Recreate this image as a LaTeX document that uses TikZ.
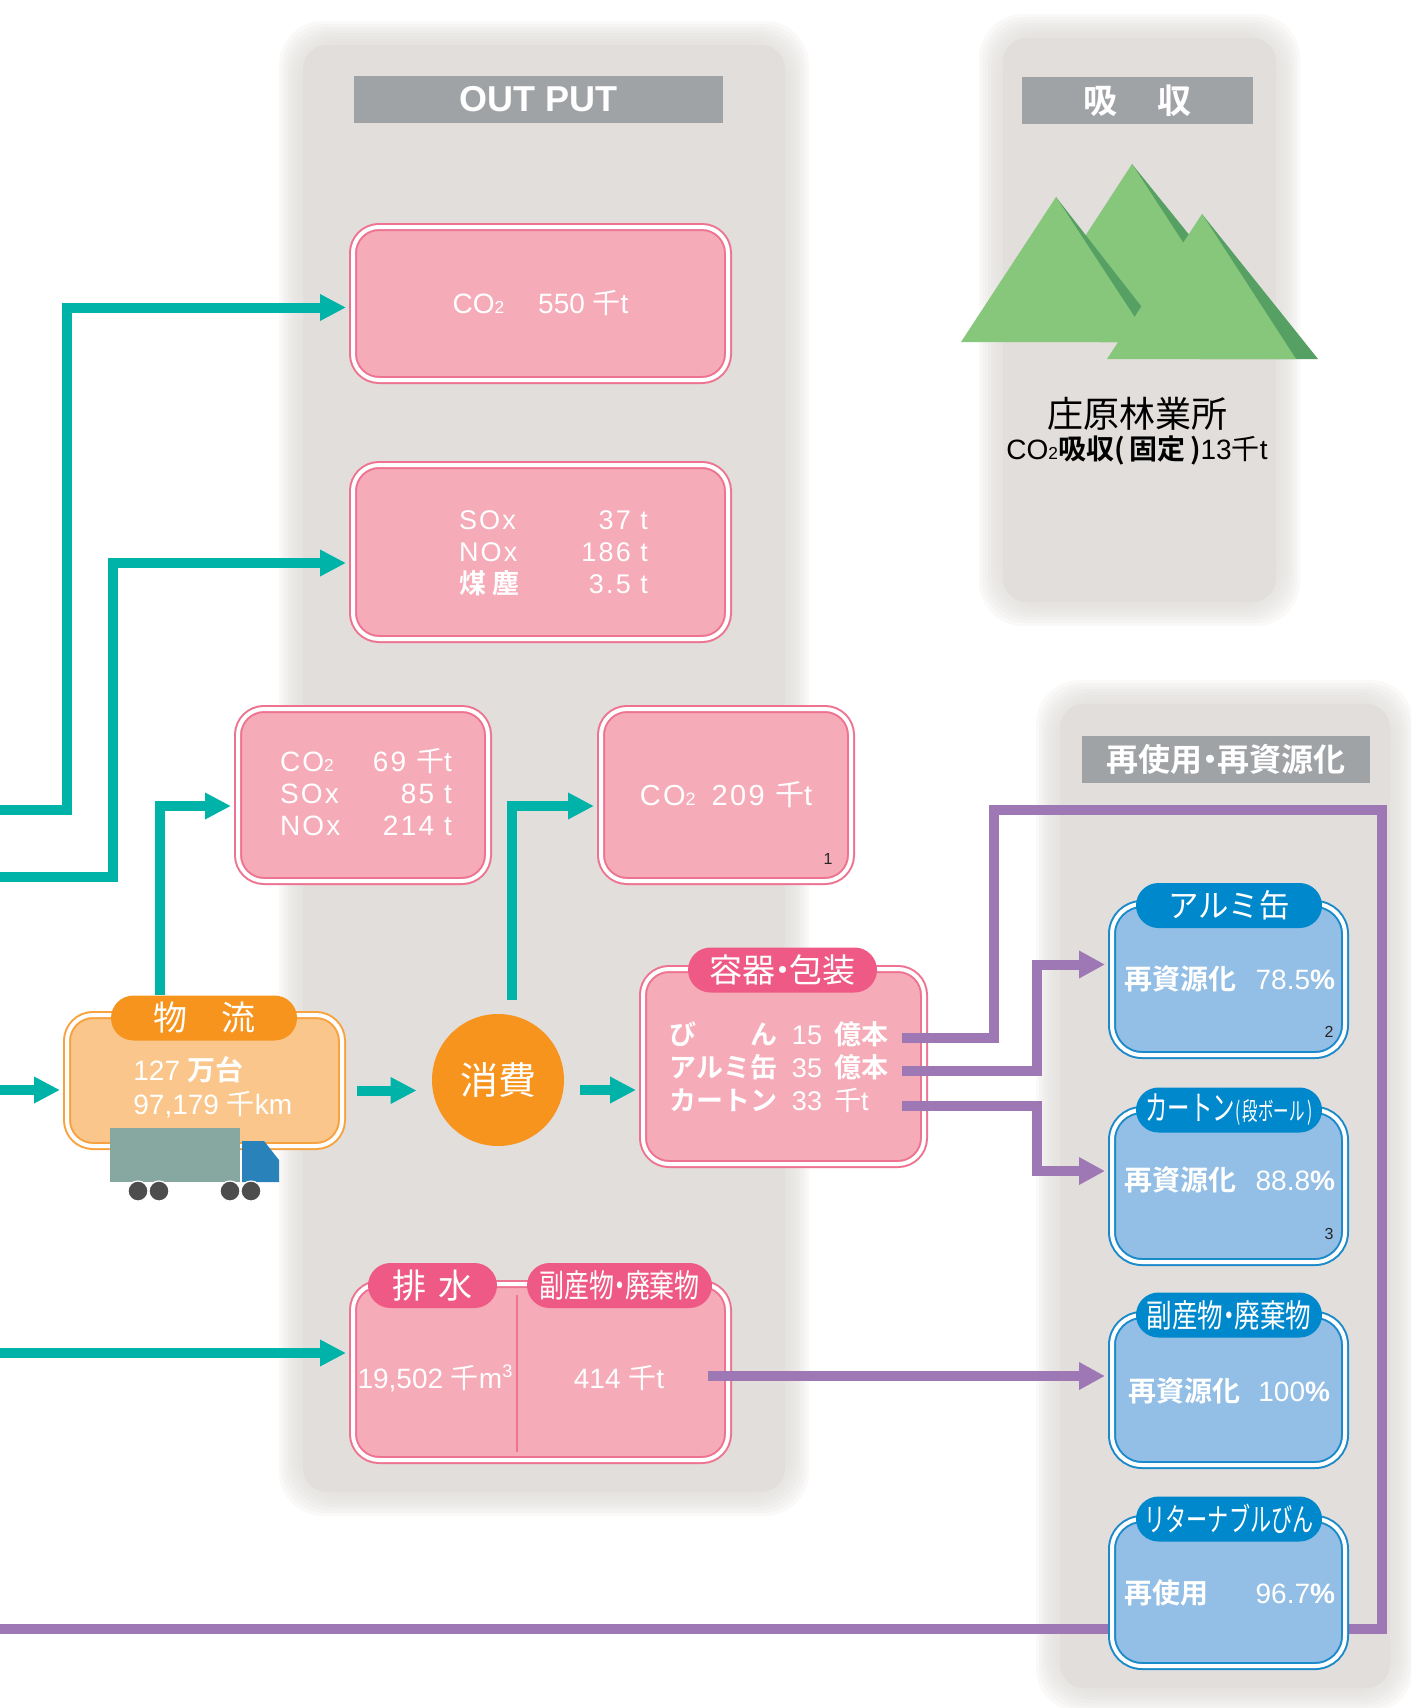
\documentclass[tikz,border=0pt]{standalone}
\usepackage{fontspec}
\usepackage{graphicx}
\setmainfont{Liberation Sans}
\newfontfamily\jpfont{Noto Sans CJK JP}[BoldFont={Noto Sans CJK JP Bold}]
\newfontfamily\spacedfont{Liberation Sans}[LetterSpace=8]
\usetikzlibrary{arrows.meta}

\definecolor{panelgray}{HTML}{E2DEDB}
\definecolor{headgray}{HTML}{A0A3A6}
\definecolor{pinkfill}{HTML}{F6ABB8}
\definecolor{pinkedge}{HTML}{EE7391}
\definecolor{pinktab}{HTML}{EE5A85}
\definecolor{orangefill}{HTML}{FAC68B}
\definecolor{orangeedge}{HTML}{F7A23E}
\definecolor{orangetab}{HTML}{F7941E}
\definecolor{bluefill}{HTML}{93BEE5}
\definecolor{blueedge}{HTML}{1B8ACB}
\definecolor{bluetab}{HTML}{0088CC}
\definecolor{flowteal}{HTML}{00B3A8}
\definecolor{flowpurple}{HTML}{9E77B5}
\definecolor{truckbody}{HTML}{87A8A0}
\definecolor{truckcab}{HTML}{2A82BA}
\definecolor{wheelgray}{HTML}{4D4D4D}
\definecolor{hill}{HTML}{86C77B}
\definecolor{hilldark}{HTML}{56A063}

\newcommand\jp[1]{{\jpfont #1}}
\newcommand\jpb[1]{{\jpfont\bfseries #1}}
\newcommand\two{\scalebox{0.62}{2}}
\newcommand\squeeze[2]{\scalebox{#1}[1]{#2}}
\newcommand\mdot{\hspace{-0.28em}・\hspace{-0.28em}}

% soft-edged grey panel: x1,y1,x2,y2
\newcommand\softpanel[4]{%
  \foreach \g in {24,21,...,3}
    \fill[panelgray, fill opacity=0.17, rounded corners=22pt] (#1-\g,#2-\g) rectangle (#3+\g,#4+\g);
  \fill[panelgray, rounded corners=12pt] (#1,#2) rectangle (#3,#4);
}

\tikzset{
  headbar/.style={fill=headgray, text=white, inner sep=0pt, minimum height=23.5pt,
    font=\fontsize{17}{17}\selectfont\bfseries},
  pinkbox/.style={fill=pinkfill, draw=pinkedge, double=white, double distance=2pt,
    line width=1pt, rounded corners=13pt, inner sep=0pt, text=white,
    font=\fontsize{14}{17}\selectfont},
  orangebox/.style={pinkbox, fill=orangefill, draw=orangeedge},
  bluebox/.style={pinkbox, fill=bluefill, draw=blueedge, rounded corners=15pt,
    minimum width=116.5pt},
  pinklabel/.style={fill=pinktab, text=white, inner sep=0pt, minimum height=22.5pt,
    rounded corners=11.25pt, font=\jpfont\fontsize{16}{16}\selectfont},
  orangelabel/.style={pinklabel, fill=orangetab},
  bluelabel/.style={pinklabel, fill=bluetab, minimum width=93pt},
  boxtext/.style={text=white, inner sep=0pt},
  numlabel/.style={inner sep=0pt, text=black!85, font=\fontsize{8}{8}\selectfont},
  flow/.style={draw=flowteal, line width=5pt, shorten >=3pt,
    -{Triangle[length=13pt, width=12.5pt]}},
  recycle/.style={draw=flowpurple, line width=5pt},
  recyclearrow/.style={recycle, shorten >=3pt, -{Triangle[length=13pt, width=13pt]}},
}

\begin{document}
\begin{tikzpicture}[x=0.5pt, y=-0.5pt]
\useasboundingbox (0,0) rectangle (1411,1708);
\fill[white] (0,0) rectangle (1411,1708);

% panels
\softpanel{303}{45}{785}{1492}
\softpanel{1003}{38}{1276}{602}
\softpanel{1060}{704}{1390}{1688}

\node[headbar, minimum width=184.5pt] (outhdr) at (538.5,99.5) {\fontsize{18}{18}\selectfont OUT PUT};
\node[headbar, minimum width=115.5pt] (abshdr) at (1137.5,100.5) {\jpfont\bfseries 吸\hspace{1.2em}収};
\node[headbar, minimum width=144pt] (reuhdr) at (1226,759.5) {\jpfont\bfseries\fontsize{16}{16}\selectfont 再使用\mdot 再資源化};

% forest
\fill[hilldark] (1132,164) -- (1266,330) -- (1100,330) -- cycle;
\fill[hill] (1132,164) -- (1240,330) -- (1024,330) -- cycle;
\fill[hilldark] (1056,197) -- (1169,342) -- (1100,342) -- cycle;
\fill[hill] (1056,197) -- (1151,342) -- (961,342) -- cycle;
\fill[hilldark] (1202,214) -- (1318,359) -- (1200,359) -- cycle;
\fill[hill] (1202,214) -- (1296,359) -- (1107,359) -- cycle;
\node[font=\jpfont\fontsize{18}{18}\selectfont] (forest) at (1137,414) {庄原林業所};
\node[font=\fontsize{14}{14}\selectfont] (forestco) at (1137,450) {CO\two\jpb{吸収(\,固定\,)}13\jp{千}t};

% emissions
\node[pinkbox, minimum width=187.5pt, minimum height=76.5pt] (co550) at (540.5,303.5)
  {CO\two\hspace{17pt}550 \jp{千}t};
\node[pinkbox, minimum width=187.5pt, minimum height=87pt] (sox) at (540.5,552) {};
\node[boxtext, font=\fontsize{13.5}{16}\selectfont] (soxtext) at (553.5,555)
  {\spacedfont\begin{tabular*}{94.5pt}{@{}l@{\extracolsep{\fill}}r@{}}
    SOx & 37 t\\ NOx & 186 t\\ \jpb{煤\hspace{3pt}塵} & 3.5 t\end{tabular*}};

\node[pinkbox, minimum width=125pt, minimum height=86pt] (co69) at (363,795) {};
\node[boxtext, font=\fontsize{14}{16}\selectfont] (co69text) at (366,797)
  {\spacedfont\begin{tabular*}{86pt}{@{}l@{\extracolsep{\fill}}r@{}}
    CO\two & 69 \jp{千}t\\ SOx & 85 t\\ NOx & 214 t\end{tabular*}};
\node[pinkbox, minimum width=125pt, minimum height=86pt, font=\fontsize{14.5}{16}\selectfont\spacedfont] (co209) at (726,795)
  {CO\two\hspace{8pt}209 \jp{千}t};
\node[numlabel] (n1) at (828,859) {1};

% logistics and consumption
\node[orangebox, minimum width=137.5pt, minimum height=65.5pt] (logi) at (204.5,1080.5) {};
\node[orangelabel, minimum width=93pt, font=\jpfont\fontsize{17}{17}\selectfont] (logitab) at (204,1018) {物\hspace{1em}流};
\node[boxtext, anchor=west, align=left, font=\fontsize{14}{17}\selectfont] (logitext) at (133,1087)
  {127 \jpb{万台}\\97,179 \jp{千}km};
% truck
\fill[truckbody] (110,1128) rectangle (240,1182);
\fill[truckcab] (242,1141) -- (264,1141) -- (279,1160) -- (279,1182) -- (242,1182) -- cycle;
\foreach \wx in {138,159,230,251}
  \filldraw[fill=wheelgray, draw=white, line width=0.6pt] (\wx,1191) circle (5pt);

\node[circle, fill=orangetab, minimum size=66pt, inner sep=0pt, text=white,
  font=\jpfont\fontsize{19}{19}\selectfont] (cons) at (498,1080) {消費};

% containers and packaging
\node[pinkbox, minimum width=140.5pt, minimum height=97.5pt] (pack) at (783.5,1066.5) {};
\node[pinklabel, minimum width=94.5pt, font=\jpfont\fontsize{16.5}{16.5}\selectfont] (packtab) at (782.5,970) {容器\mdot 包装};
\node[boxtext, font=\fontsize{13.5}{16.5}\selectfont] (packtext) at (779,1071)
  {\begin{tabular}{@{}l@{\hspace{7pt}}l@{\hspace{6pt}}l@{}}
    \jpb{\makebox[4em][s]{び\hfill ん}} & 15 & \jpb{億本}\\
    \jpb{アルミ缶} & 35 & \jpb{億本}\\
    \jpb{カートン} & 33 & \jp{千}t\end{tabular}};

% drainage and waste
\node[pinkbox, minimum width=187.5pt, minimum height=88pt] (drain) at (540.5,1372) {};
\draw[pinkedge, line width=1.2pt] (517,1295) -- (517,1452);
\node[pinklabel, minimum width=64.5pt, font=\jpfont\fontsize{17}{17}\selectfont] (draintab) at (432.5,1285.5) {排\hspace{0.35em}水};
\node[pinklabel, minimum width=92.5pt] (wastetab) at (619.5,1285.5) {\squeeze{0.78}{副産物\mdot 廃棄物}};
\node[boxtext, font=\fontsize{14}{17}\selectfont] (draintext) at (435,1378)
  {19,502 \jp{千}m\raisebox{0.75ex}{\scalebox{0.65}{3}}};
\node[boxtext, font=\fontsize{14}{17}\selectfont] (wastetext) at (619,1378) {414 \jp{千}t};

% inputs and flows
\coordinate (in1) at (0,810);
\coordinate (k1) at (67,0);
\coordinate (in2) at (0,877);
\coordinate (k2) at (113,0);
\coordinate (up1) at (160,995);
\coordinate (up2) at (512,1000);
\coordinate (in3) at (0,1090);
\coordinate (in5) at (0,1353);
\coordinate (lc) at ([yshift=-5pt,xshift=7pt]logi.east);
\coordinate (cp) at ([yshift=-5pt,xshift=8pt]cons.east);

\draw[flow] (in1) -- (in1 -| k1) |- ([yshift=-2pt]co550.west);
\draw[flow] (in2) -- (in2 -| k2) |- ([yshift=-5.5pt]sox.west);
\draw[flow] (up1) |- ([yshift=-5.5pt]co69.west);
\draw[flow] (up2) |- ([yshift=-5.5pt]co209.west);
\draw[flow] (in3) -- (in3 -| logi.west);
\draw[flow, shorten >=7.5pt] (lc) -- (lc -| cons.west);
\draw[flow] (cp) -- (cp -| pack.west);
\draw[flow] (in5) -- (in5 -| drain.west);

% recycling
\coordinate (binend) at (902,1038);
\coordinate (aluend) at (902,1071);
\coordinate (cartonend) at (902,1106);
\coordinate (wasteend) at (708,1376);
\coordinate (k3) at (994,810);
\coordinate (k4) at (1382,1629);
\coordinate (out1) at (0,1629);
\coordinate (k5) at (1037,0);

\draw[recycle] (binend) -| (k3) -| (k4) -- (out1);

\node[bluebox, minimum height=75.5pt] (alu) at (1228.5,979.5) {};
\node[bluebox, minimum height=76pt] (carton) at (1228.5,1186) {};
\node[bluebox, minimum height=75pt] (byprod) at (1228.5,1390) {};
\node[bluebox, minimum height=73.5pt] (ret) at (1228.5,1592.5) {};

\draw[recyclearrow] (aluend) -- (aluend -| k5) |- ([yshift=7.5pt]alu.west);
\draw[recyclearrow] (cartonend) -- (cartonend -| k5) |- ([yshift=7.5pt]carton.west);
\draw[recyclearrow] (wasteend) -- (wasteend -| byprod.west);

\node[bluelabel] (alutab) at (1229,905.5) {\squeeze{0.95}{アルミ缶}};
\node[bluelabel] (cartontab) at (1229,1110) {\squeeze{0.66}{\fontsize{17}{17}\selectfont カートン}\squeeze{0.62}{\fontsize{12.5}{12.5}\selectfont(\,段ボール\,)}};
\node[bluelabel] (byprodtab) at (1229,1315) {\squeeze{0.8}{副産物\mdot 廃棄物}};
\node[bluelabel] (rettab) at (1229,1519) {\squeeze{0.66}{リターナブルびん}};

\node[boxtext, font=\fontsize{14}{17}\selectfont] (alurate) at (1229.5,983)
  {\begin{tabular*}{105.5pt}{@{}l@{\extracolsep{\fill}}r@{}}\jpb{再資源化} & 78.5\textbf{\%}\end{tabular*}};
\node[boxtext, font=\fontsize{14}{17}\selectfont] (cartonrate) at (1229.5,1184)
  {\begin{tabular*}{105.5pt}{@{}l@{\extracolsep{\fill}}r@{}}\jpb{再資源化} & 88.8\textbf{\%}\end{tabular*}};
\node[boxtext, font=\fontsize{14}{17}\selectfont] (byprodrate) at (1229,1395)
  {\begin{tabular*}{101pt}{@{}l@{\extracolsep{\fill}}r@{}}\jpb{再資源化} & 100\textbf{\%}\end{tabular*}};
\node[boxtext, font=\fontsize{14}{17}\selectfont] (retrate) at (1229.5,1597)
  {\begin{tabular*}{105.5pt}{@{}l@{\extracolsep{\fill}}r@{}}\jpb{再使用} & 96.7\textbf{\%}\end{tabular*}};
\node[numlabel] (n2) at (1329,1032) {2};
\node[numlabel] (n3) at (1329,1234) {3};
\end{tikzpicture}
\end{document}
